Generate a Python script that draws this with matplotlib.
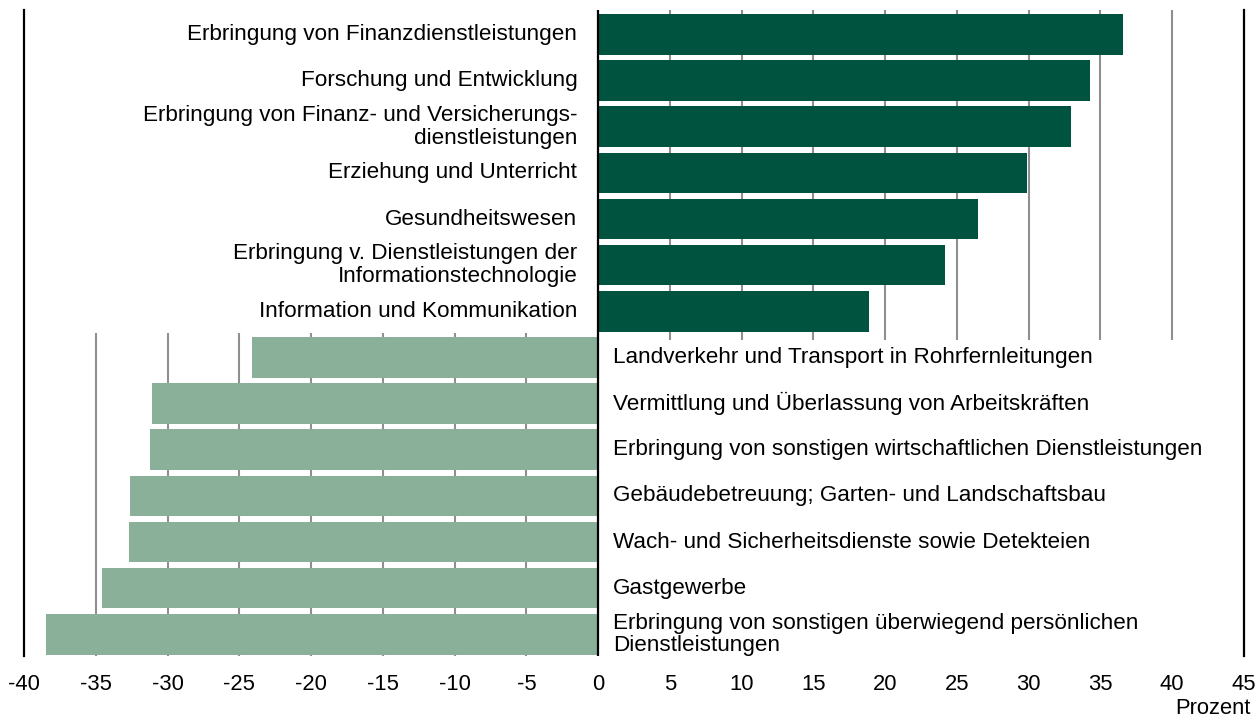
import matplotlib
matplotlib.use("Agg")
import matplotlib.pyplot as plt
import numpy as np

plt.rcParams['font.family'] = ['Liberation Sans', 'DejaVu Sans']
plt.rcParams['axes.unicode_minus'] = False

# ---- data ----
pos_labels = [
    "Erbringung von Finanzdienstleistungen",
    "Forschung und Entwicklung",
    "Erbringung von Finanz- und Versicherungs-\ndienstleistungen",
    "Erziehung und Unterricht",
    "Gesundheitswesen",
    "Erbringung v. Dienstleistungen der\nInformationstechnologie",
    "Information und Kommunikation",
]
pos_values = [36.55, 34.25, 32.95, 29.85, 26.45, 24.15, 18.85]

neg_labels = [
    "Landverkehr und Transport in Rohrfernleitungen",
    "Vermittlung und Überlassung von Arbeitskräften",
    "Erbringung von sonstigen wirtschaftlichen Dienstleistungen",
    "Gebäudebetreuung; Garten- und Landschaftsbau",
    "Wach- und Sicherheitsdienste sowie Detekteien",
    "Gastgewerbe",
    "Erbringung von sonstigen überwiegend persönlichen\nDienstleistungen",
]
neg_values = [-24.1, -31.1, -31.25, -32.6, -32.65, -34.6, -38.45]

x_ticks = [-40, -35, -30, -25, -20, -15, -10, -5, 0, 5, 10, 15, 20, 25, 30, 35, 40, 45]
x_tick_labels = ["-40", "-35", "-30", "-25", "-20", "-15", "-10", "-5", "0",
                 "5", "10", "15", "20", "25", "30", "35", "40", "45"]
unit_label = "Prozent"

# ---- style ----
DARK = "#00543F"
LIGHT = "#8AB09A"
GRID = "#8F8F8F"
FS = 16.2
FS_TICK = 15.8

fig = plt.figure(figsize=(12.59, 7.19), dpi=100)
ax = fig.add_axes([24 / 1259, 1 - 656 / 719, (1244 - 24) / 1259, (656 - 10) / 719])

n_pos = len(pos_values)
n_neg = len(neg_values)
y_pos = np.arange(n_pos)
y_neg = np.arange(n_pos, n_pos + n_neg)

ax.set_xlim(-40, 45)
ax.set_ylim(n_pos + n_neg - 0.53, -0.53)

# gridlines: positive side in upper half, negative side in lower half
split = n_pos - 0.5
pos_grid = [t for t in x_ticks if 0 < t < 45]
neg_grid = [t for t in x_ticks if -40 < t < 0]
ax.vlines(pos_grid, -0.53, split + 0.12, colors=GRID, linewidth=1.5, zorder=1)
ax.vlines(neg_grid, split - 0.03, n_pos + n_neg - 0.53, colors=GRID, linewidth=1.5, zorder=1)

ax.barh(y_pos, pos_values, height=0.88, color=DARK, zorder=2)
ax.barh(y_neg, neg_values, height=0.88, color=LIGHT, zorder=2)

ax.axvline(0, color="black", linewidth=1.6, zorder=3)

for y, lab in zip(y_pos, pos_labels):
    ax.text(-1.45, y, lab, ha="right", va="center", fontsize=FS,
            multialignment="right", color="black", linespacing=1.1)
for y, lab in zip(y_neg, neg_labels):
    ax.text(1.05, y, lab, ha="left", va="center", fontsize=FS,
            multialignment="left", color="black", linespacing=1.1)

ax.set_xticks(x_ticks)
ax.set_xticklabels(x_tick_labels, fontsize=FS_TICK)
ax.tick_params(axis="x", length=0, pad=13)
ax.set_yticks([])

for s in ["top", "bottom"]:
    ax.spines[s].set_visible(False)
for s in ["left", "right"]:
    ax.spines[s].set_color("black")
    ax.spines[s].set_linewidth(1.6)

fig.text(1251 / 1259, 1 - 709 / 719, unit_label, ha="right", va="center", fontsize=FS_TICK)

fig.savefig("out.png", dpi=100)
